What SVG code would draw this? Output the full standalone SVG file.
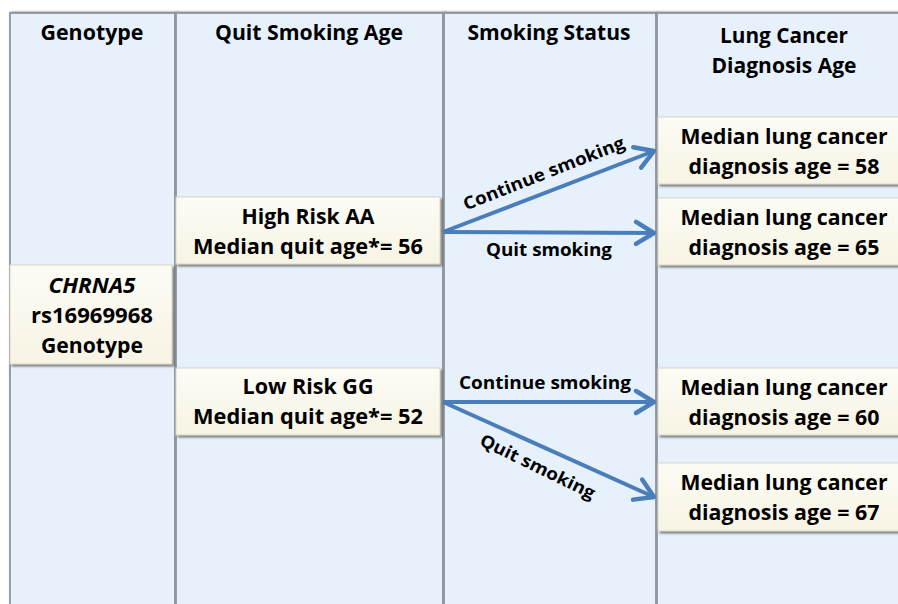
<svg xmlns="http://www.w3.org/2000/svg" width="898" height="604" viewBox="0 0 898 604">
<defs>
<filter id="sh" x="-10%" y="-10%" width="125%" height="130%">
<feDropShadow dx="2" dy="2" stdDeviation="1.2" flood-color="#555" flood-opacity="0.75"/>
</filter>
<filter id="csh" x="-5%" y="-2%" width="110%" height="104%">
<feDropShadow dx="1.5" dy="0" stdDeviation="1" flood-color="#333" flood-opacity="0.85"/>
</filter>
<linearGradient id="cream" x1="0" y1="0" x2="0" y2="1">
<stop offset="0" stop-color="#fdfcf5"/>
<stop offset="1" stop-color="#f7f4e4"/>
</linearGradient>
<marker id="ah" markerUnits="userSpaceOnUse" markerWidth="30" markerHeight="30" viewBox="-22 -15 26 30" refX="0" refY="0" orient="auto">
<path d="M-18,-11 L0,0 L-18,11" fill="none" stroke="#4a7ebb" stroke-width="4.5" stroke-linecap="round" stroke-linejoin="round"/>
</marker>
<style>
.col{fill:#e7f1fc;stroke:#8f989f;stroke-width:1.8}
.box{fill:url(#cream);stroke:#d9d6c8;stroke-width:1}
text{font-family:"Open Sans","Liberation Sans",Arial,sans-serif;font-weight:bold;fill:#000;text-anchor:middle}
.h{font-size:21px}
.t{font-size:21px}
.l{font-size:17.5px}
.conn{stroke:#4a7ebb;stroke-width:4;fill:none;marker-end:url(#ah)}
</style>
</defs>
<rect width="898" height="604" fill="#fff"/>
<g id="columns">
<rect class="col" x="10" y="13" width="165" height="600" filter="url(#csh)"/>
<rect class="col" x="176" y="13" width="267" height="600" filter="url(#csh)"/>
<rect class="col" x="444" y="13" width="212" height="600" filter="url(#csh)"/>
<rect class="col" x="657" y="13" width="250" height="600" filter="url(#csh)"/>
</g>
<g id="headers">
<text class="h" x="92" y="40" textLength="103" lengthAdjust="spacingAndGlyphs">Genotype</text>
<text class="h" x="309" y="40" textLength="188" lengthAdjust="spacingAndGlyphs">Quit Smoking Age</text>
<text class="h" x="549" y="40" textLength="163" lengthAdjust="spacingAndGlyphs">Smoking Status</text>
<text class="h" x="784" y="43" textLength="128" lengthAdjust="spacingAndGlyphs">Lung Cancer</text>
<text class="h" x="784" y="73" textLength="145" lengthAdjust="spacingAndGlyphs">Diagnosis Age</text>
</g>
<g id="genotype">
<rect class="box" x="10" y="265" width="162" height="99" filter="url(#sh)"/>
<text class="t" x="92" y="293" font-style="italic" textLength="87" lengthAdjust="spacingAndGlyphs">CHRNA5</text>
<text class="t" x="92" y="323" textLength="122" lengthAdjust="spacingAndGlyphs">rs16969968</text>
<text class="t" x="92" y="353" textLength="102" lengthAdjust="spacingAndGlyphs">Genotype</text>
</g>
<g id="high-risk">
<rect class="box" x="176" y="197" width="264" height="67" filter="url(#sh)"/>
<text class="t" x="308" y="224" textLength="133" lengthAdjust="spacingAndGlyphs">High Risk AA</text>
<text class="t" x="308" y="254" textLength="230" lengthAdjust="spacingAndGlyphs">Median quit age*= 56</text>
</g>
<g id="low-risk">
<rect class="box" x="176" y="368" width="264" height="67" filter="url(#sh)"/>
<text class="t" x="308" y="394" textLength="131" lengthAdjust="spacingAndGlyphs">Low Risk GG</text>
<text class="t" x="308" y="424" textLength="230" lengthAdjust="spacingAndGlyphs">Median quit age*= 52</text>
</g>
<g id="dx58">
<rect class="box" x="658" y="117" width="245" height="67" filter="url(#sh)"/>
<text class="t" x="784" y="144" textLength="207" lengthAdjust="spacingAndGlyphs">Median lung cancer</text>
<text class="t" x="784" y="174" textLength="191" lengthAdjust="spacingAndGlyphs">diagnosis age = 58</text>
</g>
<g id="dx65">
<rect class="box" x="658" y="198" width="245" height="67" filter="url(#sh)"/>
<text class="t" x="784" y="225" textLength="207" lengthAdjust="spacingAndGlyphs">Median lung cancer</text>
<text class="t" x="784" y="255" textLength="191" lengthAdjust="spacingAndGlyphs">diagnosis age = 65</text>
</g>
<g id="dx60">
<rect class="box" x="658" y="368" width="245" height="67" filter="url(#sh)"/>
<text class="t" x="784" y="395" textLength="207" lengthAdjust="spacingAndGlyphs">Median lung cancer</text>
<text class="t" x="784" y="425" textLength="191" lengthAdjust="spacingAndGlyphs">diagnosis age = 60</text>
</g>
<g id="dx67">
<rect class="box" x="658" y="463" width="245" height="68" filter="url(#sh)"/>
<text class="t" x="784" y="490" textLength="207" lengthAdjust="spacingAndGlyphs">Median lung cancer</text>
<text class="t" x="784" y="520" textLength="191" lengthAdjust="spacingAndGlyphs">diagnosis age = 67</text>
</g>
<g id="connectors">
<line class="conn" x1="443" y1="232" x2="654" y2="151"/>
<line class="conn" x1="443" y1="232" x2="654" y2="233"/>
<line class="conn" x1="443" y1="402" x2="654" y2="402"/>
<line class="conn" x1="443" y1="402" x2="654" y2="497"/>
<text class="l" transform="translate(546,179) rotate(-21.5)" textLength="172" lengthAdjust="spacingAndGlyphs">Continue smoking</text>
<text class="l" x="549" y="256" textLength="126" lengthAdjust="spacingAndGlyphs">Quit smoking</text>
<text class="l" x="545" y="389" textLength="172" lengthAdjust="spacingAndGlyphs">Continue smoking</text>
<text class="l" transform="translate(535,472) rotate(26)" textLength="126" lengthAdjust="spacingAndGlyphs">Quit smoking</text>
</g>
</svg>
